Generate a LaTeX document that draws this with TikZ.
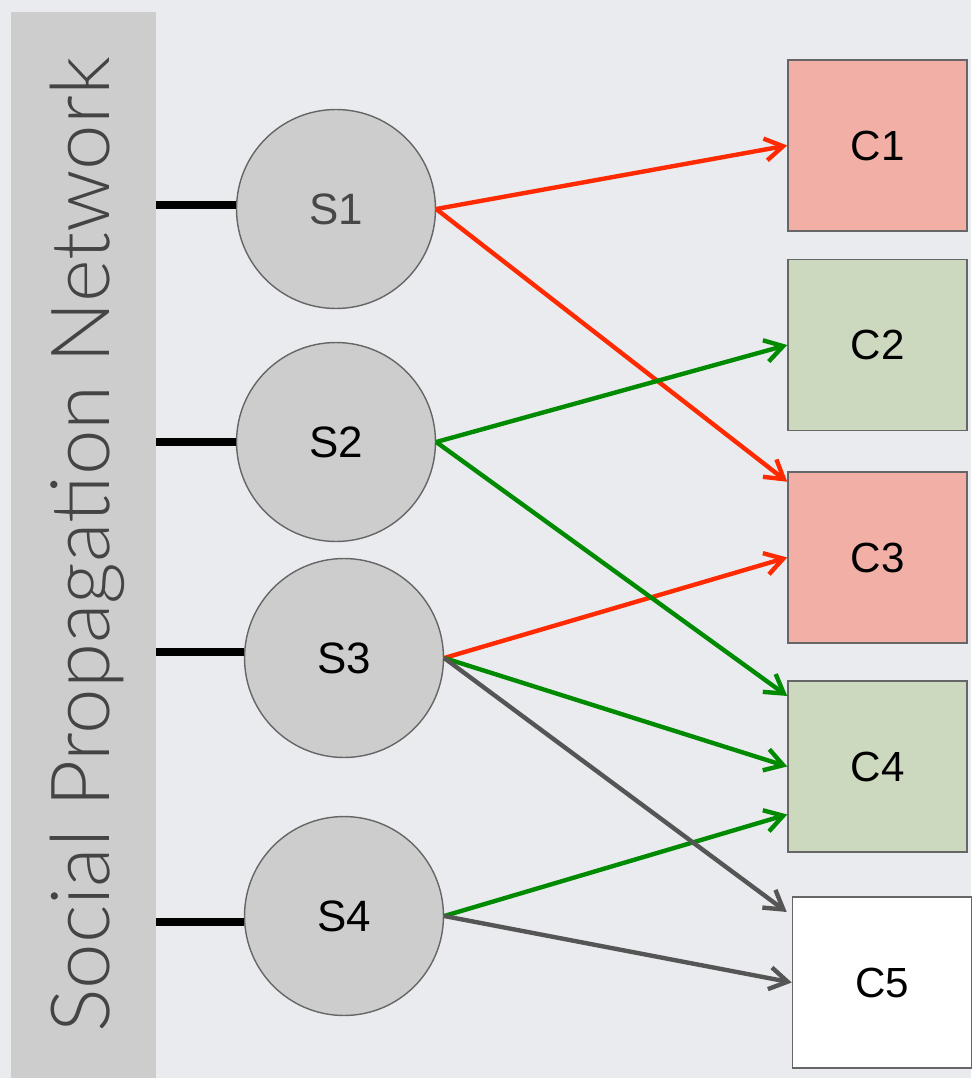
\documentclass[tikz,border=0pt]{standalone}
\usepackage{fontspec}
\setmainfont{Liberation Sans}
\newfontfamily\thinfont{Lato Light}
\usetikzlibrary{arrows.meta}

\definecolor{paper}{HTML}{E9EBEF}
\definecolor{bargrey}{HTML}{CDCDCD}
\definecolor{edgegrey}{HTML}{666666}
\definecolor{hotred}{HTML}{FF2A00}
\definecolor{leafgreen}{HTML}{008A00}
\definecolor{slate}{HTML}{555555}
\definecolor{inkgrey}{HTML}{444444}
\definecolor{pinkbox}{HTML}{F1AFA5}
\definecolor{greenbox}{HTML}{CCD9BE}

\tikzset{
  source/.style={circle, draw=edgegrey, fill=bargrey, line width=0.8pt,
    inner sep=0pt, minimum size=3.98cm, font=\fontsize{25}{30}\selectfont},
  community/.style={rectangle, draw=edgegrey, line width=0.9pt,
    inner sep=0pt, minimum width=3.58cm, minimum height=3.42cm,
    font=\fontsize{24}{28}\selectfont},
  link/.style={line width=2.5pt, -{Straight Barb[length=3.6mm, width=4.4mm]}},
  tie/.style={line width=4.5pt, black}
}

\begin{document}
\begin{tikzpicture}[x=0.02cm, y=-0.02cm]
  \fill[paper] (0,0) rectangle (971,1078);
  \useasboundingbox (0,0) rectangle (971,1078);

  % Network bar on the left
  \node[fill=bargrey, minimum width=2.9cm, minimum height=21.32cm, inner sep=0pt]
    (bar) at (83.5,545) {};
  \node[rotate=90, text=inkgrey, font=\thinfont\fontsize{46.5}{52}\selectfont]
    (title) at (87,545) {Social Propagation Network};

  % Sources
  \node[source, text=black!72] (s1) at (336,209) {S1};
  \node[source] (s2) at (336,442) {S2};
  \node[source] (s3) at (344,658) {S3};
  \node[source] (s4) at (344,916) {S4};

  % Communities
  \node[community, fill=pinkbox] (c1) at (877.5,145.5) {C1};
  \node[community, fill=greenbox] (c2) at (877.5,345) {C2};
  \node[community, fill=pinkbox] (c3) at (877.5,557.5) {C3};
  \node[community, fill=greenbox] (c4) at (877.5,766.5) {C4};
  \node[community, fill=white] (c5) at (882,982.5) {C5};

  % Ties to the bar
  \foreach \s/\dy in {s1/4, s2/0, s3/6, s4/-6}
    \draw[tie] ([yshift=\dy*0.02cm]bar.east |- \s.west)
      -- ([yshift=\dy*0.02cm]\s.west);

  % Red links
  \draw[link, hotred] (s1.east) -- (c1.west);
  \draw[link, hotred] (s1.east) -- (c3.140);
  \draw[link, hotred] (s3.east) -- (c3.west);

  % Green links
  \draw[link, leafgreen] (s2.east) -- (c2.west);
  \draw[link, leafgreen] (s2.east) -- (c4.142);
  \draw[link, leafgreen] (s3.east) -- (c4.west);
  \draw[link, leafgreen] (s4.east) -- (c4.208);

  % Grey links
  \draw[link, slate] (s3.east) -- ([xshift=-0.1cm]c5.142);
  \draw[link, slate] (s4.east) -- (c5.west);
\end{tikzpicture}
\end{document}
